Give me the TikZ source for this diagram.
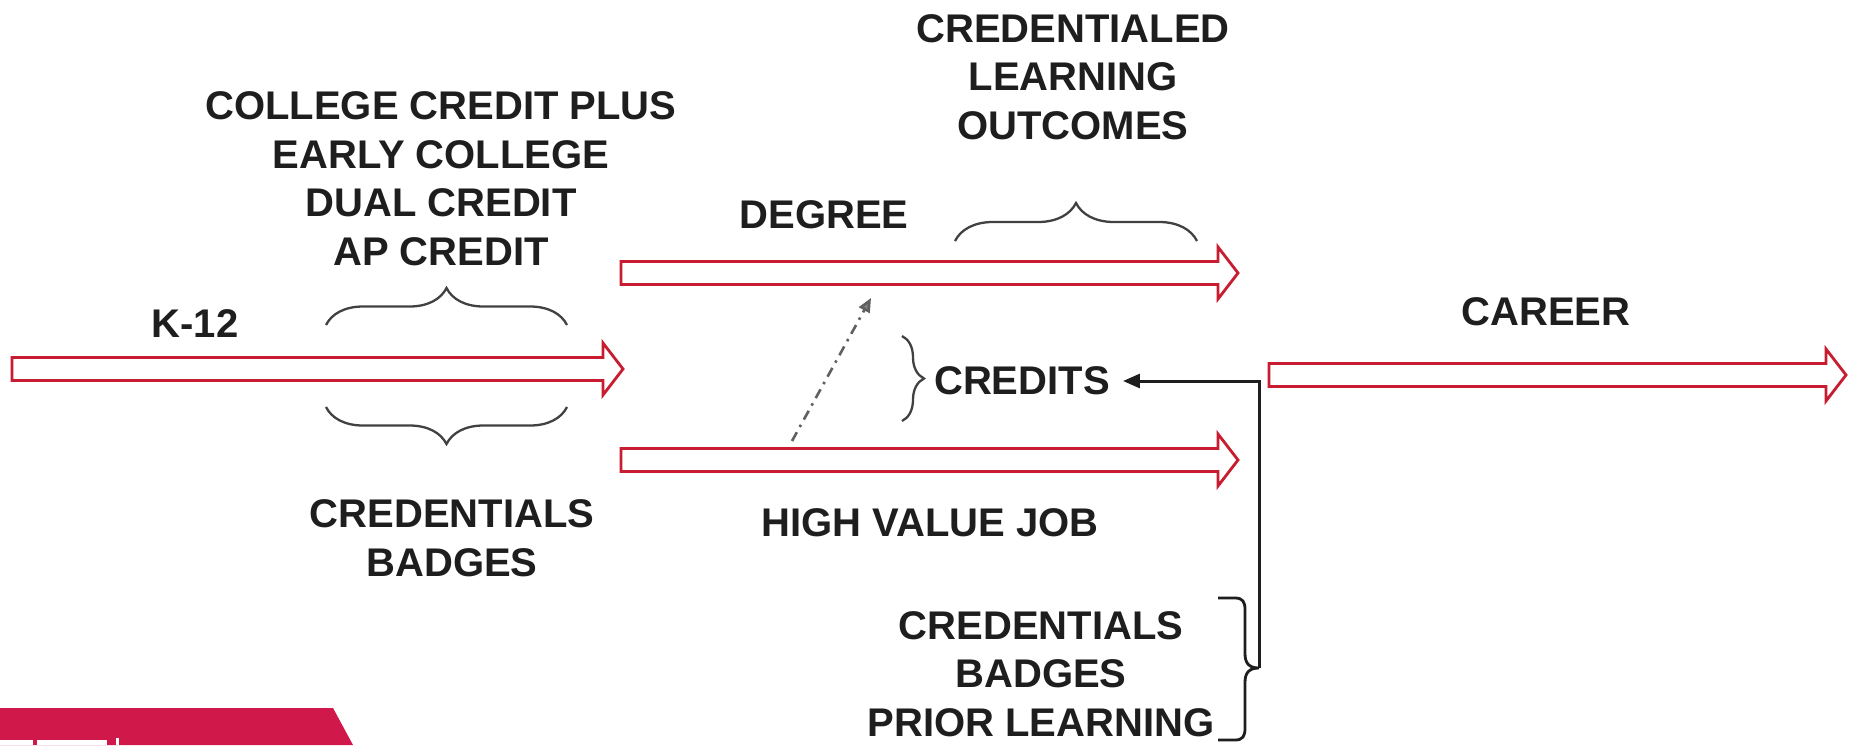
\documentclass[tikz,border=0pt]{standalone}
\usepackage{fontspec}
\setmainfont{Liberation Sans}
\usetikzlibrary{arrows.meta,decorations.pathreplacing}
\definecolor{arrowred}{RGB}{200,28,48}
\definecolor{bandred}{RGB}{208,24,74}
\definecolor{ink}{RGB}{30,30,30}
\definecolor{bracegray}{RGB}{65,65,65}
\tikzset{
  lbl/.style={font=\fontsize{40}{48.5}\selectfont\bfseries, text=ink, align=center, inner sep=0pt},
  blockarr/.style={draw=arrowred, line width=2.8pt, fill=white, line join=miter},
  bracestyle/.style={draw=bracegray, line width=2.3pt, decorate, decoration={brace, amplitude=#1}},
  bracketstyle/.style={draw=ink, line width=2.8pt},
  linkarrow/.style={draw=ink, line width=3pt, -{Triangle[length=17pt,width=14pt]}},
  dasharrow/.style={draw=gray!75!black, line width=2.6pt, dash pattern=on 10pt off 6pt on 2.5pt off 6pt,
    -{Triangle[length=14pt,width=12pt,fill=gray]}}
}
\newcommand\blockarrow[4]{%
  \coordinate (#1-start) at (#2,#4);
  \coordinate (#1-tip) at (#3,#4);
  \draw[blockarr] (#2,#4-11.5) -- (#3-20,#4-11.5) -- (#3-20,#4-26) -- (#3,#4)
    -- (#3-20,#4+26) -- (#3-20,#4+11.5) -- (#2,#4+11.5) -- cycle;
}
\begin{document}
\begin{tikzpicture}[x=1pt,y=-1pt]
\useasboundingbox (0,0) rectangle (1849,745);
\fill[white] (0,0) rectangle (1849,745);

% red band bottom left
\fill[bandred] (0,708) -- (333,708) -- (353,745) -- (0,745) -- cycle;
\fill[white] (0,740) rectangle (33,745);
\fill[white] (37,740) rectangle (107,745);
\fill[white] (116,738) rectangle (118.5,745);

% block arrows
\blockarrow{k12arr}{12}{623}{369}
\blockarrow{degarr}{621}{1238}{273}
\blockarrow{jobarr}{621}{1238}{460}
\blockarrow{cararr}{1269}{1846}{375}

% labels
\node[lbl] (ccp) at (441,178.5) {COLLEGE CREDIT PLUS\\EARLY COLLEGE\\DUAL CREDIT\\AP CREDIT};
\node[lbl] (clo) at (1073,77) {CREDENTIALED\\LEARNING\\OUTCOMES};
\node[lbl] (degree) at (824,215) {DEGREE};
\node[lbl] (k12) at (195,324) {K-12};
\node[lbl] (career) at (1546,312) {CAREER};
\node[lbl] (credits) at (1022,381) {CREDITS};
\node[lbl] (credl) at (452,538) {CREDENTIALS\\BADGES};
\node[lbl] (job) at (930,523) {HIGH VALUE JOB};
\node[lbl] (credr) at (1041,674) {CREDENTIALS\\BADGES\\PRIOR LEARNING};

% braces
\draw[bracestyle=37pt] (326,325) -- (567,325);
\draw[bracestyle=37pt] (567,407) -- (326,407);
\draw[bracestyle=38pt] (955,241) -- (1197,241);
\draw[bracestyle=22pt] (902,336) -- (902,421);

% bracket bottom right
\coordinate (brtip) at (1259,668);
\draw[bracketstyle] (1218,598) -- (1235,598) .. controls (1243,598) and (1245,602) .. (1245,610)
  -- (1245,654) .. controls (1245,664) and (1250,668) .. (brtip)
  .. controls (1250,668) and (1245,672) .. (1245,682)
  -- (1245,728) .. controls (1245,736) and (1243,740) .. (1235,740) -- (1218,740);

% link arrow to credits
\draw[linkarrow, shorten >=13pt] (brtip) |- (credits.east);

% dash-dot arrow
\coordinate (dstart) at (792,441);
\coordinate (dend) at (871,298);
\draw[dasharrow] (dstart) -- (dend);
\end{tikzpicture}
\end{document}
